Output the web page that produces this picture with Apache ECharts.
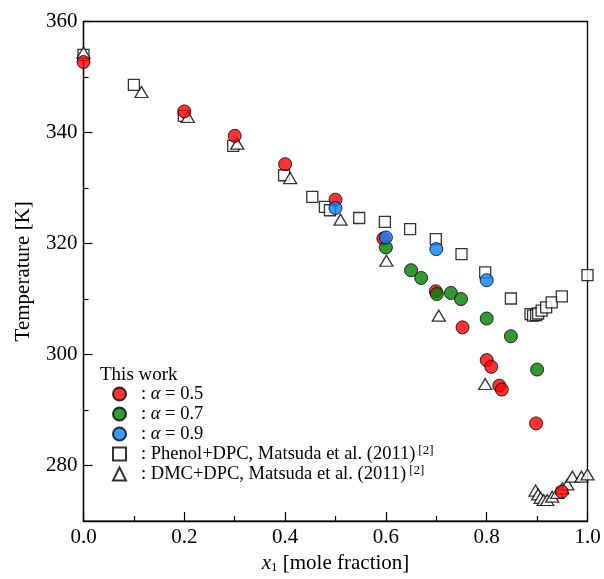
<!DOCTYPE html>
<html>
<head>
<meta charset="utf-8">
<script src="https://cdn.jsdelivr.net/npm/echarts@6/dist/echarts.min.js"></script>
<style>html,body{margin:0;padding:0;background:#fff}#c{width:604px;height:579px}</style>
</head>
<body>
<div id="c"></div>
<script>
// ---- data ----
const xTicks = [0, 0.2, 0.4, 0.6, 0.8, 1.0];
const yMajorTicks = [280, 300, 320, 340, 360];
const yMinorTicks = [290, 310, 330, 350];

const redX = [0, 0.2, 0.3, 0.4, 0.5, 0.595, 0.699, 0.752, 0.8, 0.809, 0.825, 0.83, 0.898, 0.949];
const redT = [352.7, 343.8, 339.4, 334.3, 327.9, 320.9, 311.4, 304.9, 299.0, 297.8, 294.4, 293.7, 287.6, 275.3];

const greenX = [0.6, 0.65, 0.67, 0.701, 0.729, 0.749, 0.8, 0.848, 0.9];
const greenT = [319.3, 315.2, 313.8, 310.9, 311.1, 310.0, 306.5, 303.3, 297.3];

const blueX = [0.5, 0.6, 0.7, 0.8];
const blueT = [326.4, 321.1, 319.0, 313.4];

const phenolX = [0, 0.1, 0.199, 0.297, 0.398, 0.454, 0.479, 0.489, 0.547, 0.598, 0.648, 0.699, 0.75, 0.797, 0.848, 0.887, 0.892, 0.898, 0.902, 0.909, 0.918, 0.929, 0.949, 1.0];
const phenolT = [354.0, 348.6, 343.0, 337.6, 332.3, 328.4, 326.6, 326.0, 324.6, 323.9, 322.6, 320.8, 318.1, 314.8, 310.1, 307.3, 307.0, 307.1, 307.4, 307.9, 308.5, 309.4, 310.5, 314.3];

const dmcX = [0, 0.115, 0.207, 0.305, 0.41, 0.51, 0.601, 0.705, 0.797, 0.897, 0.902, 0.907, 0.913, 0.92, 0.93, 0.94, 0.95, 0.96, 0.97, 0.988, 1.0];
const dmcT = [354.4, 347.3, 342.8, 338.0, 331.8, 324.3, 316.9, 307.0, 294.7, 275.5, 274.8, 274.2, 273.8, 273.8, 274.4, 275.1, 275.9, 276.6, 278.0, 278.0, 278.4];

const seriesNames = ['a05', 'a07', 'a09', 'phenol', 'dmc'];
const legendTexts = {
  a05: '{c|:} {a|α} = 0.5',
  a07: '{c|:} {a|α} = 0.7',
  a09: '{c|:} {a|α} = 0.9',
  phenol: '{c|:} Phenol+DPC, Matsuda et al. (2011){s|[2]}',
  dmc: '{c|:} DMC+DPC, Matsuda et al. (2011){s|[2]}'
};

// ---- chart ----
const FONT = 'Liberation Serif';
const zip = (xs, ys) => xs.map((x, i) => [x, ys[i]]);

const chart = echarts.init(document.getElementById('c'), null, {renderer: 'canvas'});

const circleStyle = c => ({color: c, borderColor: '#000', borderWidth: 1});
const openStyle = {color: '#fff', borderColor: '#000', borderWidth: 1.3};

chart.setOption({
  animation: false,
  backgroundColor: '#fff',
  grid: {left: 83.5, right: 16.5, top: 21.5, bottom: 52, show: true, borderColor: '#000', borderWidth: 1.3, backgroundColor: 'transparent'},
  xAxis: {
    type: 'value', min: 0, max: 1, interval: 0.2,
    axisLine: {lineStyle: {color: '#000', width: 1.3}},
    axisTick: {inside: true, length: 9, lineStyle: {color: '#000', width: 1.2}},
    minorTick: {show: true, splitNumber: 2, length: 5, lineStyle: {color: '#000', width: 1.2}},
    splitLine: {show: false},
    axisLabel: {color: '#000', fontFamily: FONT, fontSize: 21, margin: 6, formatter: v => v.toFixed(1)},
    name: '{i|x}{sub|1} [mole fraction]',
    nameLocation: 'middle', nameGap: 28,
    nameTextStyle: {
      color: '#000', fontFamily: FONT, fontSize: 21,
      rich: {
        i: {fontFamily: FONT, fontSize: 21, fontStyle: 'italic', color: '#000'},
        sub: {fontFamily: FONT, fontSize: 13, color: '#000', verticalAlign: 'bottom', padding: [8, 0, 0, 0]}
      }
    }
  },
  yAxis: [{
    type: 'value', min: 270, max: 360,
    axisLine: {show: true, lineStyle: {color: '#000', width: 1.3}},
    axisTick: {inside: true, length: 9, customValues: yMajorTicks, lineStyle: {color: '#000', width: 1.2}},
    splitLine: {show: false},
    axisLabel: {color: '#000', fontFamily: FONT, fontSize: 21, margin: 6, customValues: yMajorTicks},
    name: 'Temperature [K]', nameLocation: 'middle', nameGap: 50,
    nameTextStyle: {color: '#000', fontFamily: FONT, fontSize: 21}
  }, {
    type: 'value', min: 270, max: 360, position: 'left',
    axisLine: {show: false},
    axisTick: {show: true, inside: true, length: 5, customValues: yMinorTicks, lineStyle: {color: '#000', width: 1.2}},
    axisLabel: {show: false},
    splitLine: {show: false}
  }],
  legend: {
    orient: 'vertical', left: 112, top: 384, padding: 0,
    itemWidth: 13, itemHeight: 13, itemGap: 0,
    data: seriesNames,
    formatter: n => legendTexts[n],
    textStyle: {
      color: '#000', fontFamily: FONT, fontSize: 18.5, lineHeight: 20,
      rich: {
        c: {fontFamily: FONT, fontSize: 18.5, color: '#000', padding: [0, 0, 0, 10]},
        a: {fontFamily: FONT, fontSize: 18.5, fontStyle: 'italic', color: '#000'},
        s: {fontFamily: FONT, fontSize: 13, color: '#000', verticalAlign: 'top', padding: [0, 0, 0, 3]}
      }
    },
    selectedMode: false
  },
  graphic: [{
    type: 'text', left: 100, top: 366,
    style: {text: 'This work', fill: '#000', font: '19px "Liberation Serif"'}
  }],
  series: [
    {name: 'phenol', type: 'scatter', symbol: 'rect', symbolSize: 11, itemStyle: openStyle, data: zip(phenolX, phenolT), emphasis: {disabled: true}},
    {name: 'dmc', type: 'scatter', symbol: 'triangle', symbolSize: [13, 11], itemStyle: openStyle, data: zip(dmcX, dmcT), emphasis: {disabled: true}},
    {name: 'a05', type: 'scatter', symbol: 'circle', symbolSize: 13, itemStyle: circleStyle('#ff0000'), data: zip(redX, redT), emphasis: {disabled: true}},
    {name: 'a07', type: 'scatter', symbol: 'circle', symbolSize: 13, itemStyle: circleStyle('#008000'), data: zip(greenX, greenT), emphasis: {disabled: true}},
    {name: 'a09', type: 'scatter', symbol: 'circle', symbolSize: 13, itemStyle: circleStyle('#0a80ff'), data: zip(blueX, blueT), emphasis: {disabled: true}}
  ]
});
</script>
</body>
</html>
